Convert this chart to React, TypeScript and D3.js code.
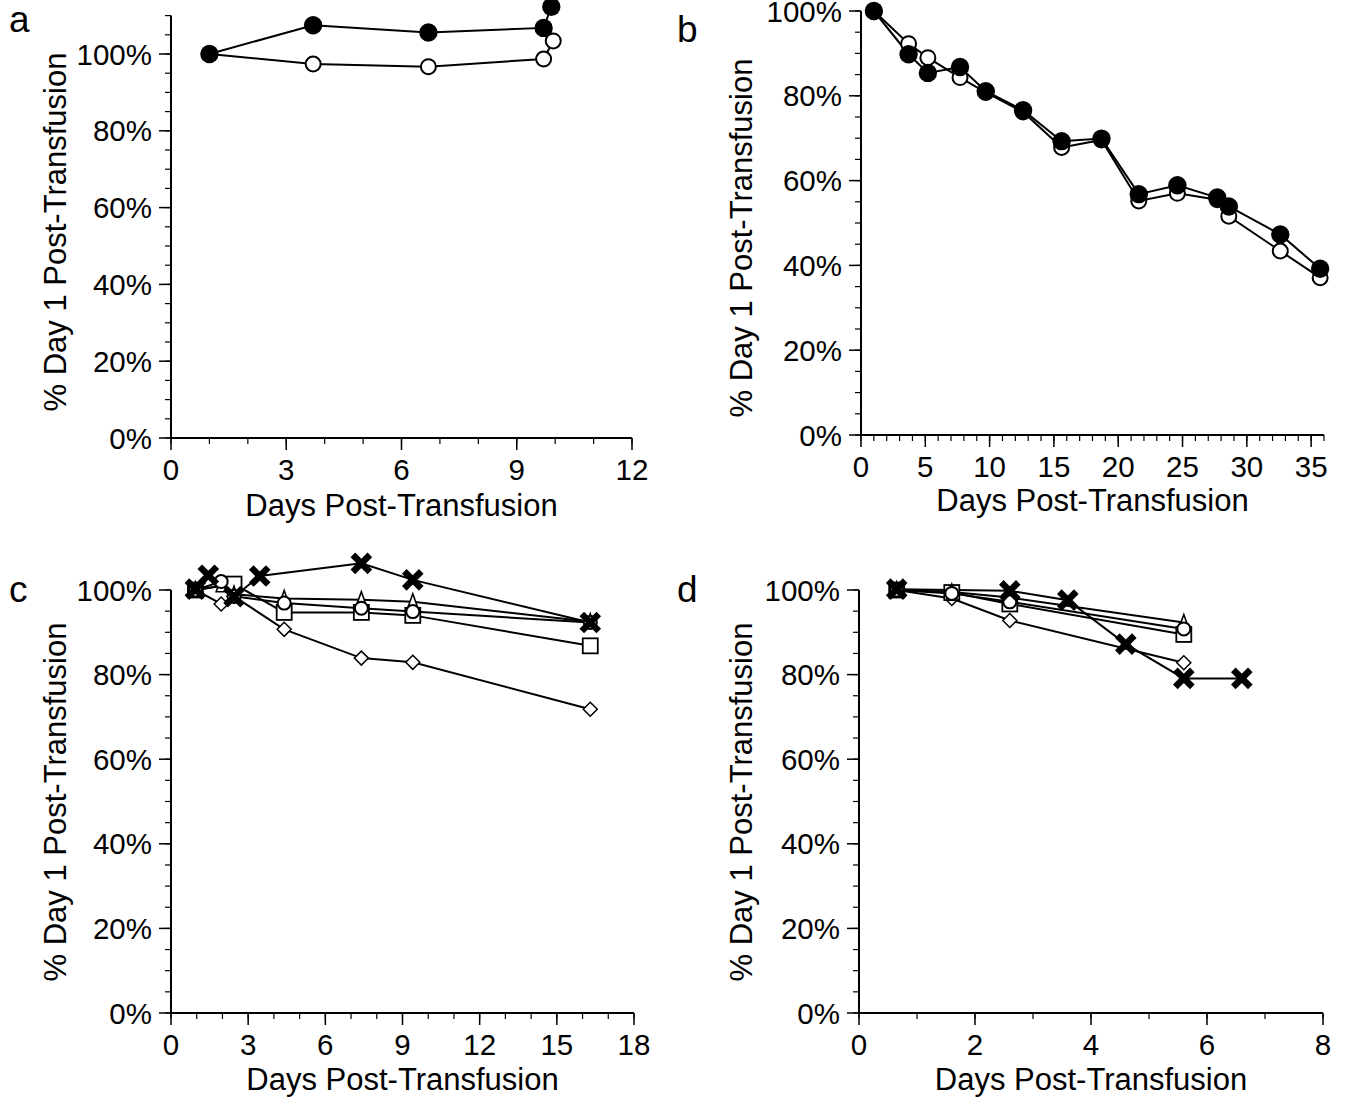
import React from "react";
import * as d3 from "d3";

// ---------- DATA ----------
// Panel a
const aFilledDays = [1, 3.7, 6.7, 9.7, 9.9];
const aFilled = [100, 107.5, 105.6, 106.8, 112.3];
const aOpenDays = [1, 3.7, 6.7, 9.7, 9.95];
const aOpen = [100, 97.4, 96.7, 98.7, 103.4];

// Panel b
const bDays = [1, 3.7, 5.2, 7.7, 9.7, 12.6, 15.6, 18.7, 21.6, 24.6, 27.7, 28.6, 32.6, 35.7];
const bFilled = [100, 89.8, 85.4, 86.8, 81.1, 76.6, 69.3, 69.9, 56.8, 58.9, 56.0, 53.9, 47.3, 39.2];
const bOpen = [100, 92.3, 89.0, 84.3, 80.8, 76.2, 67.8, 69.6, 55.2, 57.0, 55.5, 51.6, 43.4, 37.1];

// Panel c
const cCrossDays = [0.95, 1.45, 2.45, 3.45, 7.4, 9.4, 16.3];
const cCross = [100.2, 103.5, 98.4, 103.3, 106.3, 102.4, 92.3];
const cDays = [0.95, 1.95, 2.45, 4.4, 7.4, 9.4, 16.3];
const cCircle = [100, 102, 98.5, 96.9, 95.7, 94.9, 92.3];
const cTriangle = [100, 101, 99, 98, 97.7, 97.2, 92.5];
const cDiamond = [100, 96.7, 98.5, 90.7, 83.9, 82.9, 71.8];
const cSquareDays = [0.95, 2.45, 4.4, 7.4, 9.4, 16.3];
const cSquare = [100, 101.4, 94.7, 94.7, 94.0, 86.8];

// Panel d
const dCrossDays = [0.65, 2.6, 3.6, 4.6, 5.6, 6.6];
const dCross = [100.2, 99.8, 97.6, 87.2, 79.1, 79.1];
const dDays = [0.65, 1.6, 2.6, 5.6];
const dCircle = [100, 99.2, 97.2, 90.8];
const dTriangle = [100, 99.5, 98.2, 92.3];
const dSquare = [100, 99.4, 96.7, 89.5];
const dDiamond = [100, 98, 92.8, 82.8];

const yTickValues = [0, 20, 40, 60, 80, 100];
const yTitle = "% Day 1 Post-Transfusion";
const xTitle = "Days Post-Transfusion";

type Marker = "filled" | "open" | "cross" | "triangle" | "square" | "diamond";
type Series = { days: number[]; values: number[]; marker: Marker };

type Panel = {
  letter: string;
  letterX: number;
  letterY: number;
  xDomain: [number, number];
  xRange: [number, number];
  yDomain: [number, number];
  yRange: [number, number];
  xMajor: number[];
  xMinorStep: number;
  yTitleX: number;
  yTitleY: number;
  xTitleY: number;
  big: boolean;
  series: Series[];
};

const panels: Panel[] = [
  {
    letter: "a", letterX: 9, letterY: 32,
    xDomain: [0, 12], xRange: [171, 632],
    yDomain: [0, 110], yRange: [438, 15.6],
    xMajor: [0, 3, 6, 9, 12], xMinorStep: 1,
    yTitleX: 66, yTitleY: 232, xTitleY: 516, big: true,
    series: [
      { days: aOpenDays, values: aOpen, marker: "open" },
      { days: aFilledDays, values: aFilled, marker: "filled" },
    ],
  },
  {
    letter: "b", letterX: 677, letterY: 42,
    xDomain: [0, 36], xRange: [861, 1324],
    yDomain: [0, 100], yRange: [435, 11],
    xMajor: [0, 5, 10, 15, 20, 25, 30, 35], xMinorStep: 1,
    yTitleX: 752, yTitleY: 238, xTitleY: 511, big: true,
    series: [
      { days: bDays, values: bOpen, marker: "open" },
      { days: bDays, values: bFilled, marker: "filled" },
    ],
  },
  {
    letter: "c", letterX: 9, letterY: 602,
    xDomain: [0, 18], xRange: [171, 634],
    yDomain: [0, 100], yRange: [1013, 590],
    xMajor: [0, 3, 6, 9, 12, 15, 18], xMinorStep: 1,
    yTitleX: 66, yTitleY: 802, xTitleY: 1090, big: false,
    series: [
      { days: cDays, values: cDiamond, marker: "diamond" },
      { days: cSquareDays, values: cSquare, marker: "square" },
      { days: cDays, values: cTriangle, marker: "triangle" },
      { days: cDays, values: cCircle, marker: "open" },
      { days: cCrossDays, values: cCross, marker: "cross" },
    ],
  },
  {
    letter: "d", letterX: 677, letterY: 602,
    xDomain: [0, 8], xRange: [859, 1323],
    yDomain: [0, 100], yRange: [1013, 590],
    xMajor: [0, 2, 4, 6, 8], xMinorStep: 1,
    yTitleX: 752, yTitleY: 802, xTitleY: 1090, big: false,
    series: [
      { days: dDays, values: dDiamond, marker: "diamond" },
      { days: dDays, values: dSquare, marker: "square" },
      { days: dDays, values: dTriangle, marker: "triangle" },
      { days: dDays, values: dCircle, marker: "open" },
      { days: dCrossDays, values: dCross, marker: "cross" },
    ],
  },
];

const FONT = "'Liberation Sans', Arial, Helvetica, sans-serif";

function MarkerShape({ m, x, y, big }: { m: Marker; x: number; y: number; big: boolean }) {
  switch (m) {
    case "filled":
      return <circle cx={x} cy={y} r={9.2} fill="#000" />;
    case "open":
      return <circle cx={x} cy={y} r={big ? 7.5 : 6.5} fill="#fff" stroke="#000" strokeWidth={2} />;
    case "cross": {
      const s = 8.5;
      return (
        <path
          d={`M${x - s},${y - s}L${x + s},${y + s}M${x - s},${y + s}L${x + s},${y - s}`}
          stroke="#000"
          strokeWidth={6.5}
          strokeLinecap="butt"
          fill="none"
        />
      );
    }
    case "triangle": {
      const h = 8;
      return (
        <path
          d={`M${x},${y - h}L${x + 5},${y + 6}L${x - 5},${y + 6}Z`}
          fill="#fff"
          stroke="#000"
          strokeWidth={1.6}
        />
      );
    }
    case "square":
      return <rect x={x - 7.5} y={y - 7.5} width={15} height={15} fill="#fff" stroke="#000" strokeWidth={1.8} />;
    case "diamond": {
      const s = 7;
      return (
        <path
          d={`M${x},${y - s}L${x + s},${y}L${x},${y + s}L${x - s},${y}Z`}
          fill="#fff"
          stroke="#000"
          strokeWidth={1.5}
        />
      );
    }
  }
  return null;
}

function PanelView({ p }: { p: Panel }) {
  const x = d3.scaleLinear().domain(p.xDomain).range(p.xRange);
  const y = d3.scaleLinear().domain(p.yDomain).range(p.yRange);
  const x0 = p.xRange[0];
  const y0 = p.yRange[0];
  const xMinor = d3.range(p.xDomain[0], p.xDomain[1] + 0.001, p.xMinorStep);
  const yMinor = d3.range(p.yDomain[0], p.yDomain[1] + 0.001, 5);
  const line = d3
    .line<[number, number]>()
    .x((d) => x(d[0]))
    .y((d) => y(d[1]));
  const xMid = (p.xRange[0] + p.xRange[1]) / 2;
  return (
    <g fontFamily={FONT} fill="#000">
      <text x={p.letterX} y={p.letterY} fontSize={37}>
        {p.letter}
      </text>
      <line x1={x0} x2={x0} y1={y0} y2={p.yRange[1]} stroke="#000" strokeWidth={2} />
      <line x1={x0} x2={p.xRange[1]} y1={y0} y2={y0} stroke="#000" strokeWidth={2} />
      {yMinor.map((v) => (
        <line key={"ym" + v} x1={x0 - 6} x2={x0} y1={y(v)} y2={y(v)} stroke="#000" strokeWidth={1.2} />
      ))}
      {yTickValues.map((v) => (
        <g key={"yt" + v}>
          <line x1={x0 - 12} x2={x0} y1={y(v)} y2={y(v)} stroke="#000" strokeWidth={1.5} />
          <text x={x0 - 19} y={y(v)} dy="0.36em" textAnchor="end" fontSize={29.5}>
            {v + "%"}
          </text>
        </g>
      ))}
      {xMinor.map((v) => (
        <line key={"xm" + v} x1={x(v)} x2={x(v)} y1={y0} y2={y0 + 6} stroke="#000" strokeWidth={1.2} />
      ))}
      {p.xMajor.map((v) => (
        <g key={"xt" + v}>
          <line x1={x(v)} x2={x(v)} y1={y0} y2={y0 + 12} stroke="#000" strokeWidth={1.5} />
          <text x={x(v)} y={y0 + 42} textAnchor="middle" fontSize={29.5}>
            {String(v)}
          </text>
        </g>
      ))}
      <text x={xMid} y={p.xTitleY} textAnchor="middle" fontSize={31}>
        {xTitle}
      </text>
      <text
        transform={`translate(${p.yTitleX},${p.yTitleY}) rotate(-90)`}
        textAnchor="middle"
        fontSize={31}
      >
        {yTitle}
      </text>
      {p.series.map((s, i) => (
        <path
          key={"l" + i}
          d={line(s.days.map((d, j) => [d, s.values[j]] as [number, number])) || ""}
          fill="none"
          stroke="#000"
          strokeWidth={2}
        />
      ))}
      {p.series.map((s, i) => (
        <g key={"m" + i}>
          {s.days.map((d, j) => (
            <MarkerShape key={j} m={s.marker} x={x(d)} y={y(s.values[j])} big={p.big} />
          ))}
        </g>
      ))}
    </g>
  );
}

export default function App() {
  return (
    <div style={{ position: "absolute", left: 0, top: 0 }}>
      <svg width={1345} height={1099} style={{ display: "block", background: "#fff" }}>
        <rect width={1345} height={1099} fill="#fff" />
        {panels.map((p) => (
          <PanelView key={p.letter} p={p} />
        ))}
      </svg>
    </div>
  );
}
